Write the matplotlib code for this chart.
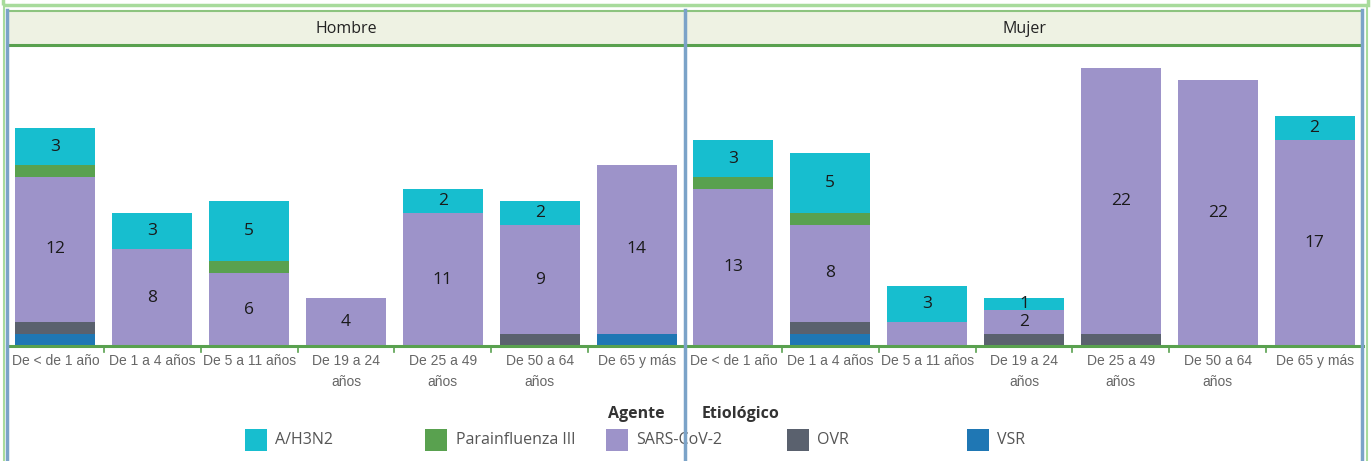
import matplotlib
matplotlib.use("Agg")
import matplotlib.pyplot as plt
from matplotlib.patches import Rectangle
from matplotlib.lines import Line2D
import numpy as np

# ---- data ----
panels = ["Hombre", "Mujer"]
categories = ["De < de 1 año", "De 1 a 4 años", "De 5 a 11 años", "De 19 a 24\naños",
              "De 25 a 49\naños", "De 50 a 64\naños", "De 65 y más"]
series = ["VSR", "OVR", "SARS-CoV-2", "Parainfluenza III", "A/H3N2"]  # bottom -> top
legend_order = ["A/H3N2", "Parainfluenza III", "SARS-CoV-2", "OVR", "VSR"]
colors = {"A/H3N2": "#17BECF", "Parainfluenza III": "#59A14F", "SARS-CoV-2": "#9D93C9",
          "OVR": "#5A616E", "VSR": "#1F77B4"}

hombre_vsr = [1, 0, 0, 0, 0, 0, 1]
hombre_ovr = [1, 0, 0, 0, 0, 1, 0]
hombre_sars = [12, 8, 6, 4, 11, 9, 14]
hombre_para = [1, 0, 1, 0, 0, 0, 0]
hombre_h3n2 = [3, 3, 5, 0, 2, 2, 0]

mujer_vsr = [0, 1, 0, 0, 0, 0, 0]
mujer_ovr = [0, 1, 0, 1, 1, 0, 0]
mujer_sars = [13, 8, 2, 2, 22, 22, 17]
mujer_para = [1, 1, 0, 0, 0, 0, 0]
mujer_h3n2 = [3, 5, 3, 1, 0, 0, 2]

data = {
    "Hombre": {"VSR": hombre_vsr, "OVR": hombre_ovr, "SARS-CoV-2": hombre_sars,
               "Parainfluenza III": hombre_para, "A/H3N2": hombre_h3n2},
    "Mujer": {"VSR": mujer_vsr, "OVR": mujer_ovr, "SARS-CoV-2": mujer_sars,
              "Parainfluenza III": mujer_para, "A/H3N2": mujer_h3n2},
}
labeled_series = ["SARS-CoV-2", "A/H3N2"]
hidden_labels = [("Mujer", "SARS-CoV-2", "De 5 a 11 años")]

# ---- figure ----
W, H = 1372, 461
fig = plt.figure(figsize=(W / 100, H / 100), dpi=100)
fig.patch.set_facecolor("white")

def fx(x):
    return x / W

def fy(y):
    return 1 - y / H

VAL_FONT = ["Open Sans", "DejaVu Sans"]
TICK_FONT = ["Liberation Sans", "DejaVu Sans"]

# outer frame
fig.add_artist(Rectangle((fx(3), fy(5)), fx(1368) - fx(3), fy(-5) - fy(5), fill=False,
                         edgecolor="#A8DB9C", lw=2.5, transform=fig.transFigure))
fig.add_artist(Line2D([fx(4), fx(4)], [0, fy(5)], color="#A8DB9C", lw=1.5, transform=fig.transFigure))
fig.add_artist(Line2D([fx(1367), fx(1367)], [0, fy(5)], color="#A8DB9C", lw=1.5, transform=fig.transFigure))

# header band
fig.add_artist(Rectangle((fx(8), fy(45)), fx(1362) - fx(8), fy(11) - fy(45), facecolor="#EEF2E3",
                         edgecolor="none", transform=fig.transFigure, zorder=0))
fig.add_artist(Line2D([fx(8), fx(1362)], [fy(11), fy(11)], color="#8CC47F", lw=1.5, transform=fig.transFigure))
fig.add_artist(Line2D([fx(8), fx(1362)], [fy(45), fy(45)], color="#59A14F", lw=2.2, transform=fig.transFigure))

panel_x = {"Hombre": (7, 685), "Mujer": (685, 1363)}
y_top, y_base = 47, 346
ymax = (y_base - y_top) / 12.09
bar_w = 0.826

for p in panels:
    x0, x1 = panel_x[p]
    fig.text(fx((x0 + x1) / 2), fy(29), p, ha="center", va="center", fontsize=11.5,
             color="#222222", family=VAL_FONT)
    ax = fig.add_axes([fx(x0), fy(y_base), fx(x1) - fx(x0), fy(y_top) - fy(y_base)])
    ax.set_xlim(-0.5, len(categories) - 0.5)
    ax.set_ylim(0, ymax)
    for s in ax.spines.values():
        s.set_visible(False)
    ax.set_yticks([])
    ax.set_xticks(range(len(categories)))
    ax.set_xticklabels(categories, fontsize=10, color="#666666", family=TICK_FONT, linespacing=1.6)
    ax.tick_params(axis="x", length=0, pad=6)
    ax.patch.set_alpha(0)
    x = np.arange(len(categories))
    bottom = np.zeros(len(categories))
    for s in series:
        vals = np.array(data[p][s], dtype=float)
        ax.bar(x, vals, bottom=bottom, width=bar_w, color=colors[s], linewidth=0)
        if s in labeled_series:
            for i, v in enumerate(vals):
                if v > 0 and (p, s, categories[i]) not in hidden_labels:
                    ax.text(x[i], bottom[i] + v / 2, f"{int(v)}", ha="center", va="center",
                            fontsize=12.5, color="#1a1a1a", family=VAL_FONT)
        bottom += vals
    # baseline & category boundary ticks
    ax.axhline(0, color="#59A14F", lw=2.2, clip_on=False)
    tr = ax.get_xaxis_transform()
    for b in np.arange(0.5, len(categories) - 0.5):
        ax.plot([b, b], [0, -6 / (y_base - y_top)], color="#59A14F", lw=1.2,
                transform=tr, clip_on=False)

# blue separators
for xv in (7, 685, 1362):
    fig.add_artist(Line2D([fx(xv), fx(xv)], [0, fy(10)], color="#7BA3C8", lw=2.5,
                          transform=fig.transFigure, zorder=5))

# legend
fig.text(fx(665), fy(414), "Agente", ha="right", va="center", fontsize=11.5, fontweight="bold",
         color="#333333", family=VAL_FONT)
fig.text(fx(702), fy(414), "Etiológico", ha="left", va="center", fontsize=11.5, fontweight="bold",
         color="#333333", family=VAL_FONT)
for k, name in enumerate(legend_order):
    sx = 245 + k * 180.5
    fig.add_artist(Rectangle((fx(sx), fy(451)), fx(22), 22 / H, facecolor=colors[name],
                             edgecolor="none", transform=fig.transFigure))
    fig.text(fx(sx + 30), fy(440), name, ha="left", va="center", fontsize=11.5,
             color="#555555", family=VAL_FONT)

fig.savefig("out.png", dpi=100)
